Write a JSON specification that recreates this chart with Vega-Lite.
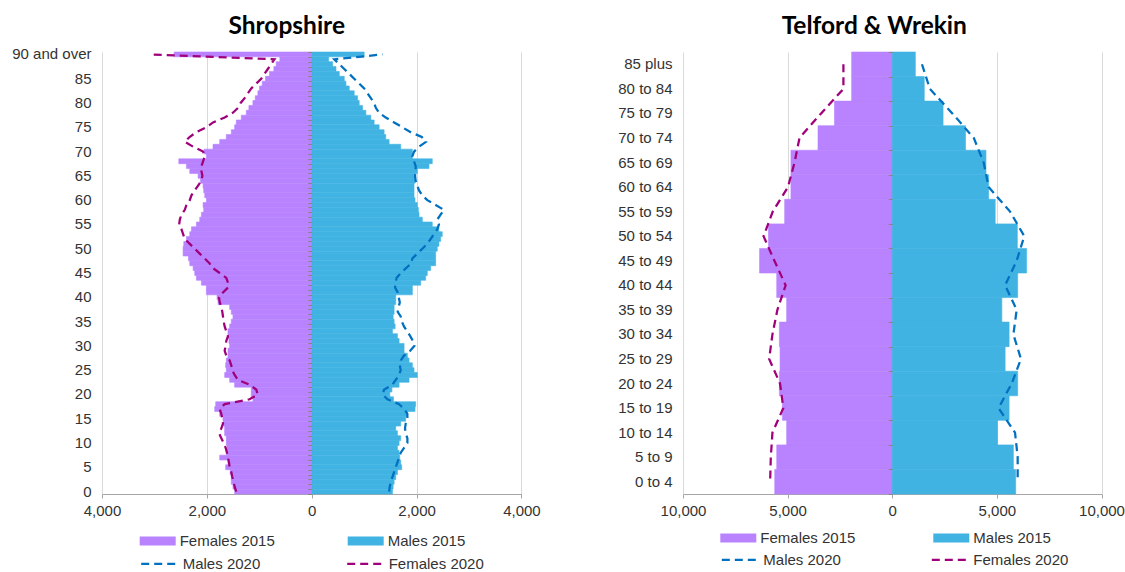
{
  "$schema": "https://vega.github.io/schema/vega-lite/v6.json",
  "background": "white",
  "padding": {"left": 11, "top": 14, "right": 0, "bottom": 0},
  "config": {
    "view": {"stroke": null},
    "font": "Liberation Sans",
    "title": {"font": "Lato", "fontSize": 24.5, "fontWeight": "bold", "color": "#000000", "anchor": "middle"},
    "axis": {"labelFont": "Liberation Sans", "labelFontSize": 15, "labelColor": "#333333", "title": null},
    "legend": {"labelFont": "Liberation Sans", "labelFontSize": 15, "labelColor": "#333333", "title": null, "padding": 0, "labelOffset": 4}
  },
  "datasets": {
    "shrop": [
      {"age":0,"Females 2015":-1470,"Males 2015":1540,"Males 2020":1477,"Females 2020":-1439},
      {"age":1,"Females 2015":-1502,"Males 2015":1553,"Males 2020":1489,"Females 2020":-1470},
      {"age":2,"Females 2015":-1534,"Males 2015":1572,"Males 2020":1508,"Females 2020":-1489},
      {"age":3,"Females 2015":-1534,"Males 2015":1603,"Males 2020":1540,"Females 2020":-1515},
      {"age":4,"Females 2015":-1553,"Males 2015":1635,"Males 2020":1572,"Females 2020":-1534},
      {"age":5,"Females 2015":-1641,"Males 2015":1717,"Males 2020":1603,"Females 2020":-1565},
      {"age":6,"Females 2015":-1597,"Males 2015":1698,"Males 2020":1635,"Females 2020":-1578},
      {"age":7,"Females 2015":-1755,"Males 2015":1679,"Males 2020":1667,"Females 2020":-1597},
      {"age":8,"Females 2015":-1629,"Males 2015":1667,"Males 2020":1698,"Females 2020":-1616},
      {"age":9,"Females 2015":-1616,"Males 2015":1635,"Males 2020":1762,"Females 2020":-1641},
      {"age":10,"Females 2015":-1629,"Males 2015":1667,"Males 2020":1825,"Females 2020":-1679},
      {"age":11,"Females 2015":-1629,"Males 2015":1698,"Males 2020":1825,"Females 2020":-1724},
      {"age":12,"Females 2015":-1660,"Males 2015":1635,"Males 2020":1793,"Females 2020":-1768},
      {"age":13,"Females 2015":-1660,"Males 2015":1603,"Males 2020":1780,"Females 2020":-1724},
      {"age":14,"Females 2015":-1679,"Males 2015":1698,"Males 2020":1793,"Females 2020":-1692},
      {"age":15,"Females 2015":-1692,"Males 2015":1793,"Males 2020":1825,"Females 2020":-1705},
      {"age":16,"Females 2015":-1755,"Males 2015":1825,"Males 2020":1825,"Females 2020":-1724},
      {"age":17,"Females 2015":-1850,"Males 2015":1971,"Males 2020":1762,"Females 2020":-1755},
      {"age":18,"Females 2015":-1831,"Males 2015":1983,"Males 2020":1667,"Females 2020":-1660},
      {"age":19,"Females 2015":-1120,"Males 2015":1560,"Males 2020":1445,"Females 2020":-1185},
      {"age":20,"Females 2015":-1153,"Males 2015":1490,"Males 2020":1350,"Females 2020":-1027},
      {"age":21,"Females 2015":-1153,"Males 2015":1530,"Males 2020":1382,"Females 2020":-1058},
      {"age":22,"Females 2015":-1470,"Males 2015":1667,"Males 2020":1540,"Females 2020":-1185},
      {"age":23,"Females 2015":-1565,"Males 2015":1857,"Males 2020":1603,"Females 2020":-1407},
      {"age":24,"Females 2015":-1660,"Males 2015":2015,"Males 2020":1667,"Females 2020":-1470},
      {"age":25,"Females 2015":-1629,"Males 2015":1952,"Males 2020":1698,"Females 2020":-1515},
      {"age":26,"Females 2015":-1641,"Males 2015":1920,"Males 2020":1680,"Females 2020":-1534},
      {"age":27,"Females 2015":-1629,"Males 2015":1857,"Males 2020":1700,"Females 2020":-1565},
      {"age":28,"Females 2015":-1597,"Males 2015":1825,"Males 2020":1760,"Females 2020":-1629},
      {"age":29,"Females 2015":-1597,"Males 2015":1762,"Males 2020":1880,"Females 2020":-1660},
      {"age":30,"Females 2015":-1565,"Males 2015":1762,"Males 2020":1960,"Females 2020":-1641},
      {"age":31,"Females 2015":-1578,"Males 2015":1667,"Males 2020":1930,"Females 2020":-1629},
      {"age":32,"Females 2015":-1597,"Males 2015":1635,"Males 2020":1880,"Females 2020":-1597},
      {"age":33,"Females 2015":-1597,"Males 2015":1540,"Males 2020":1820,"Females 2020":-1629},
      {"age":34,"Females 2015":-1565,"Males 2015":1591,"Males 2020":1760,"Females 2020":-1660},
      {"age":35,"Females 2015":-1534,"Males 2015":1572,"Males 2020":1720,"Females 2020":-1679},
      {"age":36,"Females 2015":-1502,"Males 2015":1553,"Males 2020":1700,"Females 2020":-1692},
      {"age":37,"Females 2015":-1534,"Males 2015":1572,"Males 2020":1640,"Females 2020":-1705},
      {"age":38,"Females 2015":-1565,"Males 2015":1572,"Males 2020":1660,"Females 2020":-1724},
      {"age":39,"Females 2015":-1787,"Males 2015":1603,"Males 2020":1680,"Females 2020":-1755},
      {"age":40,"Females 2015":-1806,"Males 2015":1603,"Males 2020":1660,"Females 2020":-1768},
      {"age":41,"Females 2015":-2009,"Males 2015":1920,"Males 2020":1640,"Females 2020":-1692},
      {"age":42,"Females 2015":-2009,"Males 2015":1920,"Males 2020":1590,"Females 2020":-1597},
      {"age":43,"Females 2015":-2104,"Males 2015":2079,"Males 2020":1600,"Females 2020":-1597},
      {"age":44,"Females 2015":-2199,"Males 2015":2174,"Males 2020":1620,"Females 2020":-1629},
      {"age":45,"Females 2015":-2231,"Males 2015":2205,"Males 2020":1700,"Females 2020":-1755},
      {"age":46,"Females 2015":-2262,"Males 2015":2269,"Males 2020":1800,"Females 2020":-1882},
      {"age":47,"Females 2015":-2326,"Males 2015":2364,"Males 2020":1900,"Females 2020":-1950},
      {"age":48,"Females 2015":-2350,"Males 2015":2364,"Males 2020":1920,"Females 2020":-2040},
      {"age":49,"Females 2015":-2453,"Males 2015":2364,"Males 2020":2015,"Females 2020":-2136},
      {"age":50,"Females 2015":-2453,"Males 2015":2395,"Males 2020":2110,"Females 2020":-2231},
      {"age":51,"Females 2015":-2440,"Males 2015":2427,"Males 2020":2205,"Females 2020":-2326},
      {"age":52,"Females 2015":-2389,"Males 2015":2459,"Males 2020":2269,"Females 2020":-2421},
      {"age":53,"Females 2015":-2326,"Males 2015":2490,"Males 2020":2332,"Females 2020":-2453},
      {"age":54,"Females 2015":-2294,"Males 2015":2427,"Males 2020":2395,"Females 2020":-2484},
      {"age":55,"Females 2015":-2199,"Males 2015":2300,"Males 2020":2427,"Females 2020":-2528},
      {"age":56,"Females 2015":-2136,"Males 2015":2110,"Males 2020":2395,"Females 2020":-2516},
      {"age":57,"Females 2015":-2104,"Males 2015":2047,"Males 2020":2459,"Females 2020":-2484},
      {"age":58,"Females 2015":-2060,"Males 2015":2034,"Males 2020":2522,"Females 2020":-2421},
      {"age":59,"Females 2015":-2072,"Males 2015":2015,"Males 2020":2364,"Females 2020":-2389},
      {"age":60,"Females 2015":-2009,"Males 2015":1971,"Males 2020":2205,"Females 2020":-2326},
      {"age":61,"Females 2015":-2040,"Males 2015":1952,"Males 2020":2110,"Females 2020":-2294},
      {"age":62,"Females 2015":-2060,"Males 2015":1952,"Males 2020":2047,"Females 2020":-2231},
      {"age":63,"Females 2015":-2072,"Males 2015":1952,"Males 2020":2015,"Females 2020":-2167},
      {"age":64,"Females 2015":-2123,"Males 2015":1971,"Males 2020":1983,"Females 2020":-2104},
      {"age":65,"Females 2015":-2167,"Males 2015":1983,"Males 2020":1971,"Females 2020":-2085},
      {"age":66,"Females 2015":-2326,"Males 2015":2015,"Males 2020":1983,"Females 2020":-2104},
      {"age":67,"Females 2015":-2389,"Males 2015":2237,"Males 2020":1983,"Females 2020":-2104},
      {"age":68,"Females 2015":-2535,"Males 2015":2300,"Males 2020":1952,"Females 2020":-2072},
      {"age":69,"Females 2015":-2009,"Males 2015":1920,"Males 2020":1920,"Females 2020":-2040},
      {"age":70,"Females 2015":-2053,"Males 2015":1920,"Males 2020":1952,"Females 2020":-2072},
      {"age":71,"Females 2015":-1882,"Males 2015":1698,"Males 2020":2047,"Females 2020":-2262},
      {"age":72,"Females 2015":-1755,"Males 2015":1477,"Males 2020":2180,"Females 2020":-2420},
      {"age":73,"Females 2015":-1629,"Males 2015":1413,"Males 2020":2100,"Females 2020":-2330},
      {"age":74,"Females 2015":-1534,"Males 2015":1381,"Males 2020":1888,"Females 2020":-2199},
      {"age":75,"Females 2015":-1470,"Males 2015":1286,"Males 2020":1730,"Females 2020":-2009},
      {"age":76,"Females 2015":-1439,"Males 2015":1191,"Males 2020":1572,"Females 2020":-1882},
      {"age":77,"Females 2015":-1343,"Males 2015":1128,"Males 2020":1413,"Females 2020":-1660},
      {"age":78,"Females 2015":-1248,"Males 2015":1033,"Males 2020":1286,"Females 2020":-1502},
      {"age":79,"Females 2015":-1198,"Males 2015":970,"Males 2020":1223,"Females 2020":-1407},
      {"age":80,"Females 2015":-1122,"Males 2015":906,"Males 2020":1191,"Females 2020":-1356},
      {"age":81,"Females 2015":-1077,"Males 2015":875,"Males 2020":1128,"Females 2020":-1280},
      {"age":82,"Females 2015":-1027,"Males 2015":811,"Males 2020":1065,"Females 2020":-1217},
      {"age":83,"Females 2015":-995,"Males 2015":716,"Males 2020":1001,"Females 2020":-1153},
      {"age":84,"Females 2015":-944,"Males 2015":653,"Males 2020":906,"Females 2020":-1058},
      {"age":85,"Females 2015":-881,"Males 2015":621,"Males 2020":811,"Females 2020":-963},
      {"age":86,"Females 2015":-805,"Males 2015":526,"Males 2020":716,"Females 2020":-900},
      {"age":87,"Females 2015":-722,"Males 2015":463,"Males 2020":621,"Females 2020":-837},
      {"age":88,"Females 2015":-678,"Males 2015":400,"Males 2020":526,"Females 2020":-773},
      {"age":89,"Females 2015":-608,"Males 2015":323,"Males 2020":431,"Females 2020":-710},
      {"age":90,"Females 2015":-2624,"Males 2015":1001,"Males 2020":1350,"Females 2020":-3105}
    ],
    "telford": [
      {"group":"85 plus","Females 2015":-1940,"Males 2015":1104,"Males 2020":1420,"Females 2020":-2334},
      {"group":"80 to 84","Females 2015":-1940,"Males 2015":1530,"Males 2020":1798,"Females 2020":-2334},
      {"group":"75 to 79","Females 2015":-2760,"Males 2015":2429,"Males 2020":2871,"Females 2020":-3400},
      {"group":"70 to 74","Females 2015":-3549,"Males 2015":3502,"Males 2020":3896,"Females 2020":-4432},
      {"group":"65 to 69","Females 2015":-4842,"Males 2015":4479,"Males 2020":4369,"Females 2020":-4669},
      {"group":"60 to 64","Females 2015":-4842,"Males 2015":4606,"Males 2020":4606,"Females 2020":-4984},
      {"group":"55 to 59","Females 2015":-5142,"Males 2015":4921,"Males 2020":5631,"Females 2020":-5710},
      {"group":"50 to 54","Females 2015":-5915,"Males 2015":5978,"Males 2020":6309,"Females 2020":-6151},
      {"group":"45 to 49","Females 2015":-6341,"Males 2015":6420,"Males 2020":5946,"Females 2020":-5631},
      {"group":"40 to 44","Females 2015":-5521,"Males 2015":5994,"Males 2020":5394,"Females 2020":-5095},
      {"group":"35 to 39","Females 2015":-5047,"Males 2015":5237,"Males 2020":5946,"Females 2020":-5489},
      {"group":"30 to 34","Females 2015":-5394,"Males 2015":5584,"Males 2020":5789,"Females 2020":-5726},
      {"group":"25 to 29","Females 2015":-5363,"Males 2015":5394,"Males 2020":6151,"Females 2020":-5883},
      {"group":"20 to 24","Females 2015":-5394,"Males 2015":5994,"Males 2020":5710,"Females 2020":-5363},
      {"group":"15 to 19","Females 2015":-5252,"Males 2015":5584,"Males 2020":5079,"Females 2020":-5205},
      {"group":"10 to 14","Females 2015":-5047,"Males 2015":5032,"Males 2020":5868,"Females 2020":-5726},
      {"group":"5 to 9","Females 2015":-5521,"Males 2015":5789,"Males 2020":5994,"Females 2020":-5804},
      {"group":"0 to 4","Females 2015":-5615,"Males 2015":5899,"Males 2020":5994,"Females 2020":-5836}
    ]
  },
  "hconcat": [
    {
      "title": {"text": "Shropshire", "dx": -25, "offset": 7},
      "width": 419.4,
      "height": 442,
      "data": {"name": "shrop"},
      "transform": [{"fold": ["Females 2015", "Males 2015", "Males 2020", "Females 2020"], "as": ["series", "value"]}],
      "layer": [
        {
          "transform": [{"filter": {"field": "series", "equal": "Females 2015"}}],
          "mark": {"type": "bar", "stroke": "#B983FF", "strokeWidth": 0.6},
          "encoding": {
            "y": {"field": "age", "type": "ordinal", "sort": "descending", "scale": {"paddingInner": 0, "paddingOuter": 0},
              "axis": {"domain": false, "ticks": false, "labelPadding": 11, "labelExpr": "datum.value == 90 ? '90 and over' : (datum.value % 5 == 0 ? datum.label : '')", "grid": false, "labelOverlap": false}},
            "x": {"field": "value", "type": "quantitative", "stack": null, "scale": {"domain": [-4000, 4000], "nice": false},
              "axis": {"values": [-4000, -2000, 0, 2000, 4000], "labelExpr": "format(abs(datum.value), ',')", "grid": true, "gridColor": "#D9D9D9", "domainColor": "#A6A6A6", "tickColor": "#A6A6A6", "tickSize": 4, "labelPadding": 5, "labelFlush": false}},
            "fill": {"field": "series", "type": "nominal",
              "scale": {"domain": ["Females 2015", "Males 2015"], "range": ["#B983FF", "#41B3E3"]},
              "legend": {"orient": "none", "legendX": 37.7, "legendY": 471, "direction": "horizontal", "symbolType": "M-1,-0.25H1V0.25H-1Z", "symbolSize": 1296, "symbolStrokeWidth": 0, "columnPadding": 72}}
          }
        },
        {
          "transform": [{"filter": {"field": "series", "equal": "Males 2015"}}],
          "mark": {"type": "bar", "stroke": "#41B3E3", "strokeWidth": 0.6},
          "encoding": {
            "y": {"field": "age", "type": "ordinal", "sort": "descending", "axis": null},
            "x": {"field": "value", "type": "quantitative", "stack": null},
            "fill": {"field": "series", "type": "nominal"}
          }
        },
        {
          "transform": [{"filter": {"field": "series", "oneOf": ["Males 2020", "Females 2020"]}}],
          "mark": {"type": "line", "strokeDash": [8, 5], "strokeWidth": 2.25},
          "encoding": {
            "y": {"field": "age", "type": "ordinal", "sort": "descending", "axis": null},
            "x": {"field": "value", "type": "quantitative"},
            "stroke": {"field": "series", "type": "nominal",
              "scale": {"domain": ["Males 2020", "Females 2020"], "range": ["#0070C0", "#A0007A"]},
              "legend": {"orient": "none", "legendX": 37.7, "legendY": 492, "direction": "horizontal", "symbolType": "stroke", "symbolSize": 1296, "symbolStrokeWidth": 2.25, "symbolDash": [8, 5], "columnPadding": 82}},
            "order": {"field": "age", "type": "quantitative"}
          }
        },
        {
          "transform": [{"filter": {"field": "series", "equal": "Males 2015"}}],
          "mark": {"type": "rule", "color": "#868686", "strokeWidth": 1},
          "encoding": {
            "x": {"datum": 0},
            "y": {"field": "age", "type": "ordinal", "sort": "descending",
              "axis": {"orient": "right", "offset": -209.7, "domain": false, "ticks": true, "tickBand": "extent", "tickSize": -4, "tickColor": "#868686", "labels": false, "grid": false, "zindex": 1}}
          }
        }
      ],
      "resolve": {"axis": {"y": "independent"}}
    },
    {
      "title": {"text": "Telford & Wrekin", "dx": -18, "offset": 12},
      "width": 418.5,
      "height": 442,
      "data": {"name": "telford"},
      "transform": [{"fold": ["Females 2015", "Males 2015", "Males 2020", "Females 2020"], "as": ["series", "value"]}],
      "layer": [
        {
          "transform": [{"filter": {"field": "series", "equal": "Females 2015"}}],
          "mark": {"type": "bar", "stroke": "#B983FF", "strokeWidth": 0.6},
          "encoding": {
            "y": {"field": "group", "type": "ordinal", "sort": ["85 plus", "80 to 84", "75 to 79", "70 to 74", "65 to 69", "60 to 64", "55 to 59", "50 to 54", "45 to 49", "40 to 44", "35 to 39", "30 to 34", "25 to 29", "20 to 24", "15 to 19", "10 to 14", "5 to 9", "0 to 4"], "scale": {"paddingInner": 0, "paddingOuter": 0},
              "axis": {"domain": false, "ticks": false, "labelPadding": 11, "grid": false, "labelOverlap": false}},
            "x": {"field": "value", "type": "quantitative", "stack": null, "scale": {"domain": [-10000, 10000], "nice": false},
              "axis": {"values": [-10000, -5000, 0, 5000, 10000], "labelExpr": "format(abs(datum.value), ',')", "grid": true, "gridColor": "#D9D9D9", "domainColor": "#A6A6A6", "tickColor": "#A6A6A6", "tickSize": 4, "labelPadding": 5, "labelFlush": false}},
            "fill": {"field": "series", "type": "nominal",
              "scale": {"domain": ["Females 2015", "Males 2015"], "range": ["#B983FF", "#41B3E3"]},
              "legend": {"orient": "none", "legendX": 37.3, "legendY": 468, "direction": "horizontal", "symbolType": "M-1,-0.25H1V0.25H-1Z", "symbolSize": 1296, "symbolStrokeWidth": 0, "columnPadding": 77}}
          }
        },
        {
          "transform": [{"filter": {"field": "series", "equal": "Males 2015"}}],
          "mark": {"type": "bar", "stroke": "#41B3E3", "strokeWidth": 0.6},
          "encoding": {
            "y": {"field": "group", "type": "ordinal", "sort": ["85 plus", "80 to 84", "75 to 79", "70 to 74", "65 to 69", "60 to 64", "55 to 59", "50 to 54", "45 to 49", "40 to 44", "35 to 39", "30 to 34", "25 to 29", "20 to 24", "15 to 19", "10 to 14", "5 to 9", "0 to 4"], "axis": null},
            "x": {"field": "value", "type": "quantitative", "stack": null},
            "fill": {"field": "series", "type": "nominal"}
          }
        },
        {
          "transform": [{"filter": {"field": "series", "oneOf": ["Males 2020", "Females 2020"]}}],
          "mark": {"type": "line", "strokeDash": [8, 5], "strokeWidth": 2.25},
          "encoding": {
            "y": {"field": "group", "type": "ordinal", "sort": ["85 plus", "80 to 84", "75 to 79", "70 to 74", "65 to 69", "60 to 64", "55 to 59", "50 to 54", "45 to 49", "40 to 44", "35 to 39", "30 to 34", "25 to 29", "20 to 24", "15 to 19", "10 to 14", "5 to 9", "0 to 4"], "axis": null},
            "x": {"field": "value", "type": "quantitative"},
            "stroke": {"field": "series", "type": "nominal",
              "scale": {"domain": ["Males 2020", "Females 2020"], "range": ["#0070C0", "#A0007A"]},
              "legend": {"orient": "none", "legendX": 37.3, "legendY": 488, "direction": "horizontal", "symbolType": "stroke", "symbolSize": 1296, "symbolStrokeWidth": 2.25, "symbolDash": [8, 5], "columnPadding": 86}}
          }
        },
        {
          "transform": [{"filter": {"field": "series", "equal": "Males 2015"}}],
          "mark": {"type": "rule", "color": "#868686", "strokeWidth": 1},
          "encoding": {
            "x": {"datum": 0},
            "y": {"field": "group", "type": "ordinal", "sort": ["85 plus", "80 to 84", "75 to 79", "70 to 74", "65 to 69", "60 to 64", "55 to 59", "50 to 54", "45 to 49", "40 to 44", "35 to 39", "30 to 34", "25 to 29", "20 to 24", "15 to 19", "10 to 14", "5 to 9", "0 to 4"],
              "axis": {"orient": "right", "offset": -209.25, "domain": false, "ticks": true, "tickBand": "extent", "tickSize": -4, "tickColor": "#868686", "labels": false, "grid": false, "zindex": 1}}
          }
        }
      ],
      "resolve": {"axis": {"y": "independent"}}
    }
  ],
  "spacing": 76,
  "resolve": {"scale": {"fill": "independent", "stroke": "independent", "x": "independent", "y": "independent"}, "legend": {"fill": "independent", "stroke": "independent"}}
}
